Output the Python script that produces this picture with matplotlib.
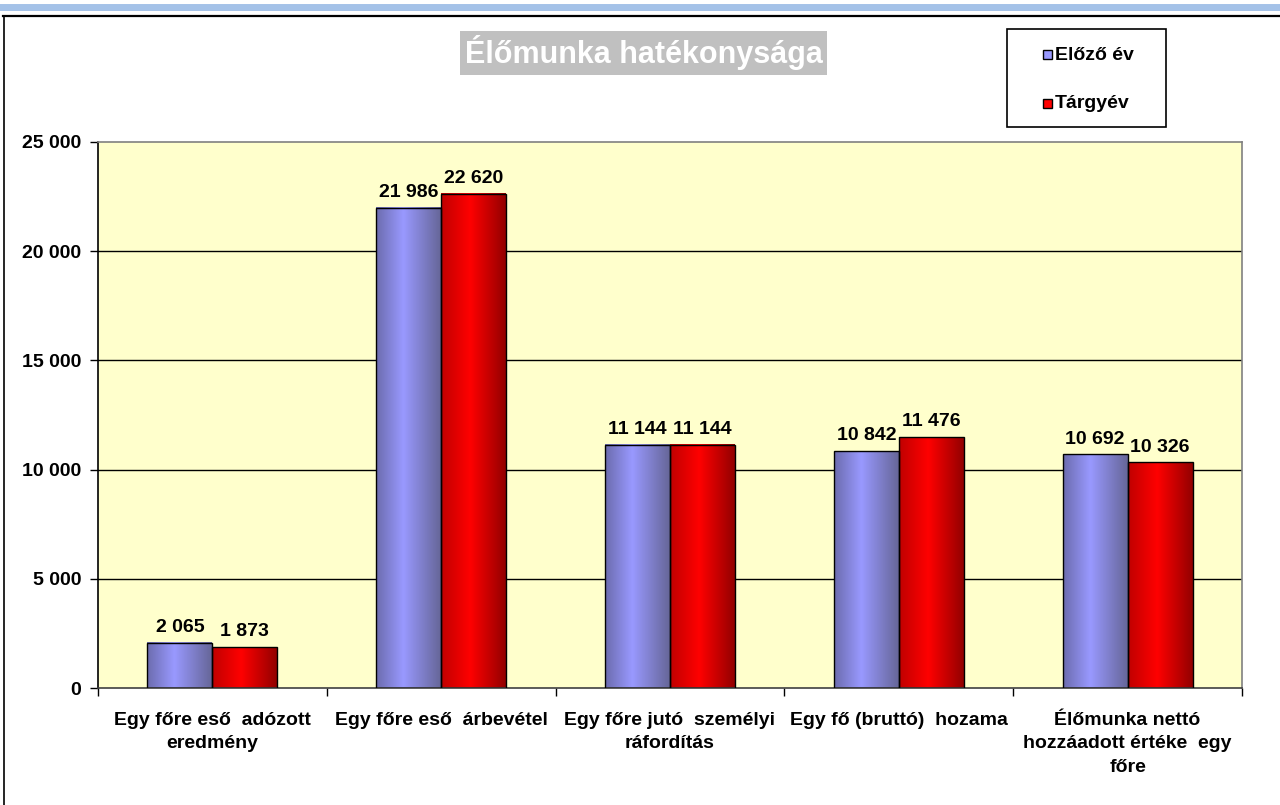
import matplotlib
matplotlib.use("Agg")
import matplotlib.pyplot as plt
import numpy as np
from matplotlib.colors import LinearSegmentedColormap
from matplotlib.patches import Rectangle
from matplotlib.lines import Line2D

plt.rcParams["font.family"] = ["Liberation Sans", "DejaVu Sans"]

categories = [
    "Egy főre eső  adózott\neredmény",
    "Egy főre eső  árbevétel",
    "Egy főre jutó  személyi\nráfordítás",
    "Egy fő (bruttó)  hozama",
    "Élőmunka nettó\nhozzáadott értéke  egy\nfőre",
]
prev_year = [2065, 21986, 11144, 10842, 10692]
this_year = [1873, 22620, 11144, 11476, 10326]
series_names = ["Előző év", "Tárgyév"]
yticks = [0, 5000, 10000, 15000, 20000, 25000]

BLUE = LinearSegmentedColormap.from_list(
    "b", [(0, "#6C6CAE"), (0.42, "#9999FF"), (1, "#666698")])
RED = LinearSegmentedColormap.from_list(
    "r", [(0, "#C00000"), (0.45, "#FF0000"), (1, "#930000")])
grad = np.linspace(0, 1, 128).reshape(1, -1)


def fmt(v):
    return f"{v:,}".replace(",", " ")


fig = plt.figure(figsize=(12.8, 8.05), dpi=100)
ax = fig.add_axes([98 / 1280, 1 - 688 / 805, (1242 - 98) / 1280, (688 - 142) / 805])
ax.set_facecolor("#FFFFCC")

x = np.arange(len(categories))
w = 0.284
for vals, off, cmap in ((prev_year, -w / 2, BLUE), (this_year, w / 2, RED)):
    bars = ax.bar(x + off, vals, w, facecolor="none", edgecolor="black",
                  lw=1, zorder=3)
    for b, v in zip(bars, vals):
        x0 = b.get_x()
        ax.imshow(grad, cmap=cmap, extent=(x0, x0 + w, 0, v), aspect="auto",
                  interpolation="bicubic", zorder=2)
        ax.annotate(fmt(v), (x0 + w / 2, v), textcoords="offset points",
                    xytext=(0, 5), ha="center", va="bottom", fontsize=14,
                    fontweight="bold", color="black")

ax.set_xlim(-0.5, len(categories) - 0.5)
ax.set_ylim(0, 25000)
ax.set_yticks(yticks)
ax.set_yticklabels([fmt(t) for t in yticks], fontsize=14, fontweight="bold")
for t in yticks[1:-1]:
    ax.axhline(t, color="black", lw=1, zorder=1)

ax.set_xticks(x)
ax.set_xticklabels(categories, fontsize=14, fontweight="bold",
                   linespacing=1.5, va="top")
ax.tick_params(axis="x", which="major", length=0, pad=17)
ax.set_xticks(np.arange(-0.5, len(categories)), minor=True)
ax.tick_params(axis="x", which="minor", length=6, width=1, direction="out")
ax.tick_params(axis="y", length=6, width=1, direction="out", pad=6)

ax.spines["top"].set_color("#808080")
ax.spines["right"].set_color("#808080")
ax.spines["left"].set_color("black")
ax.spines["bottom"].set_color("#404040")
for sp in ax.spines.values():
    sp.set_linewidth(1.2)

# title
fig.text(643.5 / 1280, 1 - 53 / 805, "Élőmunka hatékonysága", ha="center",
         va="center", fontsize=22, fontweight="bold", color="white",
         bbox=dict(boxstyle="square,pad=0.15", fc="#C0C0C0", ec="none"))

# legend (drawn by hand to keep the box geometry)
fig.patches.append(Rectangle((1007 / 1280, 1 - 127 / 805), 159 / 1280, 98 / 805,
                             transform=fig.transFigure, fc="white",
                             ec="black", lw=1.2))
for i, (name, col) in enumerate(zip(series_names, ["#9999FF", "#FF0000"])):
    yy = 1 - (55 + 49 * i) / 805
    fig.patches.append(Rectangle((1043 / 1280, yy - 4.5 / 805), 9 / 1280, 9 / 805,
                                 transform=fig.transFigure, fc=col,
                                 ec="black", lw=1))
    fig.text(1055 / 1280, yy, name, ha="left", va="center", fontsize=14,
             fontweight="bold", color="black")

# outer frame bits
fig.add_artist(Line2D([0, 1], [1 - 7 / 805] * 2, color="#A4C2E8", lw=5,
                      transform=fig.transFigure))
fig.add_artist(Line2D([3 / 1280, 1], [1 - 16 / 805] * 2, color="black", lw=1.6,
                      transform=fig.transFigure))
fig.add_artist(Line2D([3.5 / 1280] * 2, [0, 1 - 16 / 805], color="black", lw=1.2,
                      transform=fig.transFigure))

fig.savefig("out.png", dpi=100)
